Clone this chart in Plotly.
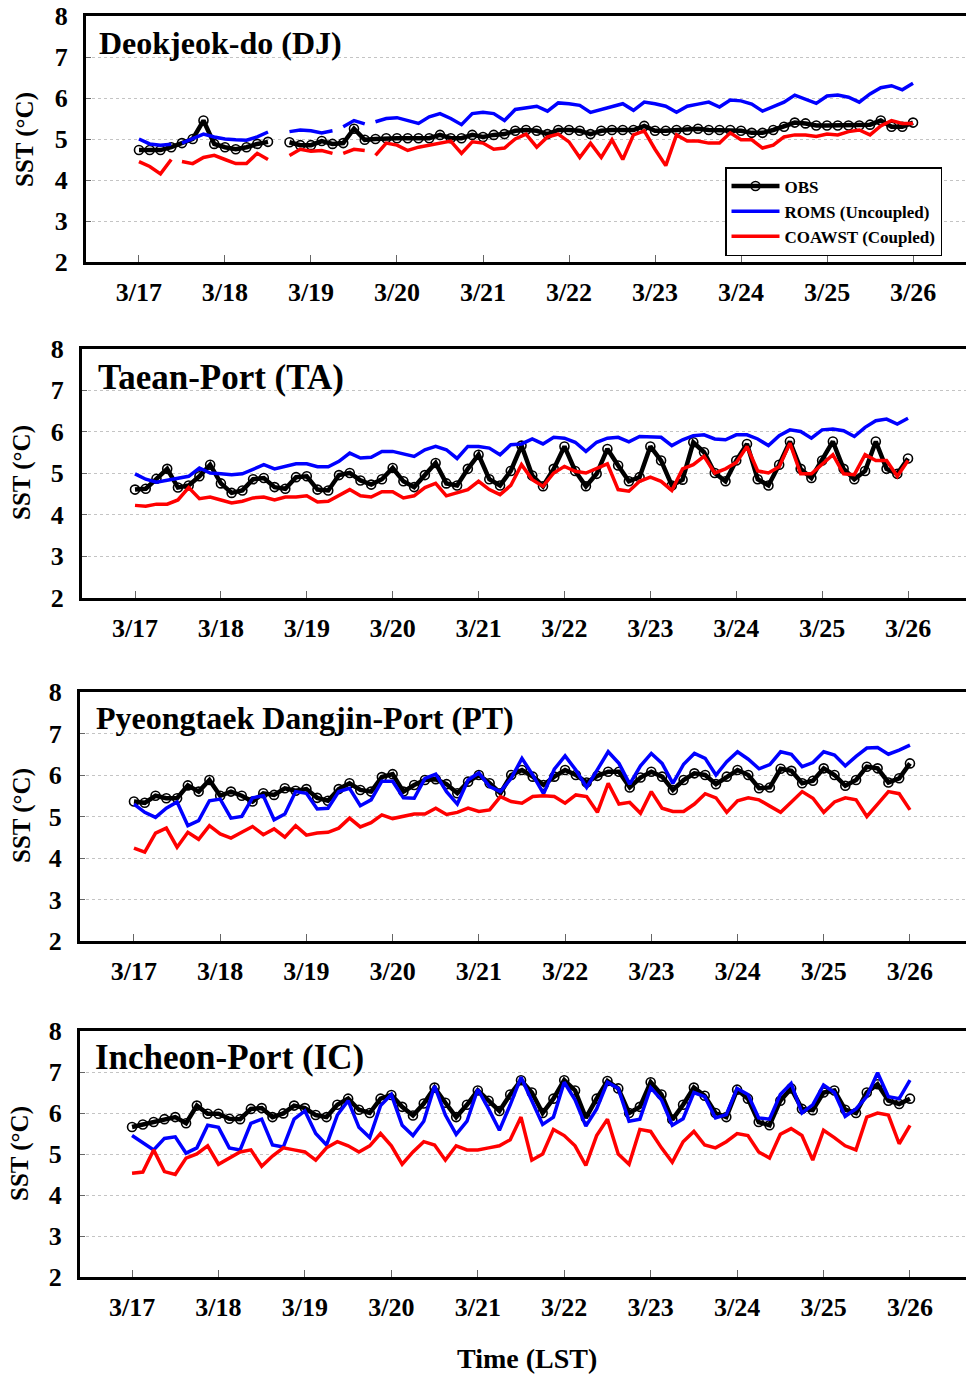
import plotly.graph_objects as go

# ---------------- DATA (3-hourly, from 3/17 00:00 LST) ----------------
dates = ["3/17", "3/18", "3/19", "3/20", "3/21", "3/22", "3/23", "3/24", "3/25", "3/26"]
y_ticks = [2, 3, 4, 5, 6, 7, 8]
step_hours = 3

dj_obs = [4.73, 4.73, 4.73, 4.8, 4.9, 5.0, 5.45, 4.88, 4.8, 4.75, 4.8, 4.88,
          4.93, None, 4.92, 4.85, 4.85, 4.95, 4.88, 4.9, 5.25, 4.98, 5.0, 5.02,
          5.02, 5.02, 5.02, 5.02, 5.1, 5.02, 5.02, 5.1, 5.05, 5.1, 5.12, 5.2,
          5.22, 5.2, 5.12, 5.22, 5.22, 5.2, 5.12, 5.2, 5.22, 5.22, 5.22, 5.32,
          5.2, 5.2, 5.22, 5.22, 5.25, 5.22, 5.22, 5.22, 5.2, 5.15, 5.15, 5.22,
          5.3, 5.4, 5.38, 5.33, 5.33, 5.33, 5.33, 5.33, 5.35, 5.45, 5.3, 5.3,
          5.4]
dj_roms = [5.0, 4.88, 4.85, 4.87, 4.9, 5.02, 5.12, 5.05, 5.0, 4.98, 4.97, 5.05,
           5.17, None, 5.18, 5.22, 5.2, 5.15, 5.2, 5.3, 5.45, 5.37, 5.42, 5.5,
           5.52, 5.45, 5.38, 5.54, 5.62, 5.5, 5.35, 5.62, 5.65, 5.62, 5.45, 5.72,
           5.75, 5.8, 5.68, 5.88, 5.86, 5.82, 5.65, 5.72, 5.8, 5.86, 5.7, 5.9,
           5.86, 5.8, 5.65, 5.8, 5.85, 5.9, 5.78, 5.95, 5.93, 5.85, 5.68, 5.8,
           5.9, 6.07, 5.98, 5.87, 6.05, 6.07, 6.02, 5.9, 6.1, 6.25, 6.3, 6.2,
           6.36]
dj_coawst = [4.45, 4.33, 4.15, 4.5, 4.45, 4.4, 4.55, 4.6, 4.5, 4.4, 4.4, 4.65,
             4.5, None, 4.6, 4.75, 4.7, 4.72, 4.65, 4.65, 4.75, 4.72, 4.6, 4.9,
             4.85, 4.72, 4.8, 4.85, 4.88, 4.95, 4.65, 4.93, 4.9, 4.75, 4.78, 5.0,
             5.12, 4.8, 5.05, 5.12, 4.93, 4.55, 4.9, 4.55, 4.98, 4.5, 5.1, 5.2,
             4.75, 4.35, 5.1, 4.95, 4.95, 4.9, 4.9, 5.15, 4.98, 4.98, 4.78, 4.85,
             5.05, 5.1, 5.1, 5.06, 5.12, 5.1, 5.18, 5.22, 5.1, 5.32, 5.45, 5.38,
             5.38]
dj_model_breaks = [10.5, 55.5, 64.5]   # hours where the model records break

ta_obs = [4.6, 4.62, 4.86, 5.1, 4.65, 4.7, 4.92, 5.2, 4.75, 4.52, 4.58, 4.85,
          4.88, 4.66, 4.62, 4.9, 4.92, 4.6, 4.58, 4.95, 5.0, 4.82, 4.72, 4.85,
          5.12, 4.8, 4.66, 4.95, 5.24, 4.75, 4.7, 5.1, 5.44, 4.85, 4.7, 5.05,
          5.66, 4.94, 4.68, 5.1, 5.64, 5.05, 4.68, 4.98, 5.58, 5.18, 4.8, 4.9,
          5.64, 5.3, 4.7, 4.84, 5.74, 5.5, 5.0, 4.8, 5.3, 5.7, 4.85, 4.7,
          5.2, 5.76, 5.1, 4.88, 5.3, 5.76, 5.1, 4.85, 5.05, 5.76, 5.1, 4.98,
          5.35]
ta_roms = [4.98, 4.85, 4.78, 4.82, 4.86, 4.92, 5.12, 5.0, 4.98, 4.96, 4.98, 5.1,
           5.2, 5.1, 5.15, 5.22, 5.22, 5.15, 5.15, 5.28, 5.48, 5.36, 5.38, 5.52,
           5.52, 5.45, 5.4, 5.56, 5.64, 5.56, 5.35, 5.64, 5.64, 5.6, 5.44, 5.68,
           5.7, 5.82, 5.7, 5.86, 5.84, 5.74, 5.52, 5.74, 5.84, 5.86, 5.75, 5.88,
           5.88, 5.86, 5.66, 5.8, 5.9, 5.92, 5.82, 5.8, 5.92, 5.92, 5.82, 5.66,
           5.9, 6.04, 6.0, 5.84, 6.04, 6.06, 6.02, 5.88, 6.1, 6.26, 6.3, 6.18,
           6.32]
ta_coawst = [4.22, 4.2, 4.25, 4.25, 4.35, 4.65, 4.38, 4.42, 4.35, 4.28, 4.32, 4.4,
             4.42, 4.35, 4.42, 4.42, 4.45, 4.3, 4.32, 4.45, 4.6, 4.45, 4.42, 4.55,
             4.55, 4.4, 4.45, 4.65, 4.75, 4.45, 4.52, 4.6, 4.8, 4.6, 4.48, 4.7,
             5.2, 4.84, 4.68, 5.0, 5.16, 5.04, 5.0, 5.1, 5.22, 4.6, 4.56, 4.8,
             4.9, 4.8, 4.58, 5.1, 5.2, 5.4, 5.0, 5.1, 5.25, 5.64, 5.05, 5.0,
             5.15, 5.72, 4.98, 4.98, 5.2, 5.44, 4.98, 4.96, 5.44, 5.3, 5.3, 4.92,
             5.3]

pt_obs = [5.36, 5.33, 5.5, 5.44, 5.44, 5.75, 5.6, 5.88, 5.5, 5.6, 5.5, 5.36,
          5.56, 5.52, 5.68, 5.62, 5.66, 5.45, 5.38, 5.66, 5.8, 5.64, 5.6, 5.95,
          6.02, 5.6, 5.76, 5.88, 5.9, 5.78, 5.56, 5.84, 6.0, 5.8, 5.56, 6.0,
          6.12, 5.96, 5.76, 5.96, 6.12, 6.0, 5.82, 5.98, 6.08, 6.08, 5.7, 5.94,
          6.08, 5.96, 5.64, 5.88, 6.04, 6.0, 5.78, 5.96, 6.12, 6.0, 5.68, 5.7,
          6.15, 6.1, 5.8, 5.86, 6.16, 6.0, 5.74, 5.88, 6.2, 6.16, 5.82, 5.92,
          6.28]
pt_roms = [5.3, 5.1, 4.98, 5.2, 5.35, 4.78, 4.9, 5.38, 5.42, 4.96, 5.0, 5.45,
           5.5, 4.92, 5.06, 5.6, 5.56, 5.18, 5.2, 5.6, 5.68, 5.26, 5.4, 5.85,
           5.85, 5.45, 5.44, 5.92, 6.02, 5.6, 5.3, 5.88, 6.05, 5.72, 5.6, 5.92,
           6.4, 6.0, 5.55, 6.14, 6.46, 6.12, 5.7, 6.12, 6.56, 6.28, 5.78, 6.22,
           6.52, 6.28, 5.8, 6.26, 6.52, 6.4, 6.0, 6.32, 6.56, 6.38, 6.15, 6.25,
           6.56, 6.5, 6.2, 6.3, 6.56, 6.48, 6.22, 6.45, 6.65, 6.66, 6.5, 6.6,
           6.72]
pt_coawst = [4.24, 4.14, 4.6, 4.72, 4.26, 4.62, 4.45, 4.78, 4.58, 4.48, 4.62, 4.76,
             4.56, 4.7, 4.5, 4.78, 4.55, 4.6, 4.62, 4.72, 4.96, 4.75, 4.85, 5.04,
             4.95, 5.0, 5.06, 5.06, 5.2, 5.05, 5.1, 5.2, 5.12, 5.16, 5.48, 5.36,
             5.32, 5.48, 5.5, 5.48, 5.32, 5.52, 5.48, 5.1, 5.8, 5.3, 5.34, 5.08,
             5.6, 5.2, 5.12, 5.12, 5.3, 5.55, 5.45, 5.1, 5.38, 5.45, 5.4, 5.25,
             5.1, 5.35, 5.6, 5.44, 5.1, 5.35, 5.45, 5.4, 5.0, 5.3, 5.6, 5.55,
             5.16]

ic_obs = [5.66, 5.72, 5.78, 5.85, 5.9, 5.75, 6.18, 5.98, 5.98, 5.86, 5.85, 6.1,
          6.12, 5.9, 5.99, 6.18, 6.12, 5.95, 5.9, 6.2, 6.35, 6.08, 6.0, 6.35,
          6.44, 6.15, 5.94, 6.23, 6.62, 6.25, 5.9, 6.2, 6.55, 6.3, 6.05, 6.45,
          6.8, 6.5, 6.0, 6.35, 6.8, 6.55, 5.88, 6.35, 6.78, 6.6, 6.0, 6.15,
          6.75, 6.45, 5.84, 6.2, 6.62, 6.42, 6.0, 5.9, 6.57, 6.35, 5.78, 5.7,
          6.3, 6.6, 6.1, 6.07, 6.5, 6.55, 6.08, 6.0, 6.5, 6.7, 6.3, 6.22,
          6.35]
ic_roms = [5.45, 5.28, 5.1, 5.38, 5.42, 5.02, 5.15, 5.7, 5.65, 5.15, 5.1, 5.75,
           5.85, 5.22, 5.17, 5.85, 6.05, 5.5, 5.22, 5.95, 6.3, 5.65, 5.4, 6.18,
           6.45, 5.7, 5.45, 5.8, 6.66, 5.95, 5.48, 5.8, 6.58, 6.1, 5.58, 6.2,
           6.87, 6.3, 5.72, 5.9, 6.75, 6.32, 5.68, 6.1, 6.75, 6.6, 5.8, 5.85,
           6.62, 6.32, 5.7, 5.86, 6.5, 6.4, 5.88, 5.96, 6.6, 6.45, 5.88, 5.85,
           6.45, 6.72, 6.0, 6.2, 6.68, 6.5, 5.92, 6.1, 6.4, 6.98, 6.4, 6.35,
           6.8]
ic_coawst = [4.53, 4.56, 5.1, 4.57, 4.5, 4.9, 5.0, 5.2, 4.75, 4.9, 5.05, 5.1,
             4.7, 4.95, 5.15, 5.1, 5.05, 4.85, 5.15, 5.3, 5.2, 5.05, 5.2, 5.5,
             5.2, 4.75, 5.05, 5.3, 5.22, 4.85, 5.2, 5.1, 5.1, 5.15, 5.2, 5.35,
             5.9, 4.85, 5.0, 5.6, 5.45, 5.2, 4.72, 5.45, 5.85, 5.0, 4.75, 5.6,
             5.55, 5.15, 4.8, 5.3, 5.55, 5.22, 5.15, 5.3, 5.5, 5.45, 5.05, 4.9,
             5.48, 5.62, 5.45, 4.85, 5.58, 5.4, 5.2, 5.1, 5.9, 6.0, 5.95, 5.25,
             5.7]

station_names = ["Deokjeok-do (DJ)", "Taean-Port (TA)",
                 "Pyeongtaek Dangjin-Port (PT)", "Incheon-Port (IC)"]
obs_sets = [dj_obs, ta_obs, pt_obs, ic_obs]
roms_sets = [dj_roms, ta_roms, pt_roms, ic_roms]
coawst_sets = [dj_coawst, ta_coawst, pt_coawst, ic_coawst]
model_breaks = [dj_model_breaks, [], [], []]
series_names = ["OBS", "ROMS (Uncoupled)", "COAWST (Coupled)"]

# ---------------- LAYOUT GEOMETRY (pixels) ----------------
W, H = 966, 1376
geom = [
    dict(left=86, top=16, bottom=262, xr=[-0.616, 9.616], tx=97, ty=43, ts=32, lx=25, ly=140),
    dict(left=82, top=348.5, bottom=597.5, xr=[-0.617, 9.675], tx=96, ty=377, ts=35, lx=22, ly=473),
    dict(left=80, top=692, bottom=941, xr=[-0.626, 9.65], tx=94, ty=718, ts=32, lx=22, ly=816),
    dict(left=80, top=1031, bottom=1277, xr=[-0.602, 9.648], tx=93, ty=1057, ts=35, lx=20, ly=1154),
]

SERIF = "Liberation Serif, Times New Roman, serif"


def fx(px):
    return px / W


def fy(px):
    return 1 - px / H


def series(vals, breaks=()):
    pts = [(step_hours * i / 24.0, v) for i, v in enumerate(vals)]
    for b in breaks:
        pts.append((b / 24.0, None))
    pts.sort(key=lambda p: p[0])
    return [p[0] for p in pts], [p[1] for p in pts]


fig = go.Figure()
annotations = []

for k in range(4):
    g = geom[k]
    xa = "x" if k == 0 else f"x{k+1}"
    ya = "y" if k == 0 else f"y{k+1}"
    show = (k == 0)

    ox, oy = series(obs_sets[k])
    fig.add_trace(go.Scatter(
        x=ox, y=oy, mode="lines+markers", name=series_names[0],
        line=dict(color="black", width=4.5),
        marker=dict(symbol="circle-open", size=9, color="black", line=dict(width=1.6)),
        xaxis=xa, yaxis=ya, showlegend=show, legendgroup="obs", connectgaps=False))
    rx, ry = series(roms_sets[k], model_breaks[k])
    fig.add_trace(go.Scatter(
        x=rx, y=ry, mode="lines", name=series_names[1],
        line=dict(color="#0000ff", width=3.5),
        xaxis=xa, yaxis=ya, showlegend=show, legendgroup="roms", connectgaps=False))
    cx, cy = series(coawst_sets[k], model_breaks[k])
    fig.add_trace(go.Scatter(
        x=cx, y=cy, mode="lines", name=series_names[2],
        line=dict(color="#ff0000", width=3.5),
        xaxis=xa, yaxis=ya, showlegend=show, legendgroup="coawst", connectgaps=False))

    xaxis = dict(
        domain=[fx(g["left"]), 1.0], range=g["xr"], anchor=ya, automargin=False,
        tickmode="array", tickvals=list(range(len(dates))), ticktext=dates,
        ticks="inside", ticklen=7, tickwidth=1, tickcolor="#666",
        showline=True, linewidth=3, linecolor="black", mirror=True,
        showgrid=False, zeroline=False, ticklabelstandoff=5,
        tickfont=dict(family=SERIF, size=26, color="black", weight="bold"))
    yaxis = dict(
        domain=[fy(g["bottom"]), fy(g["top"])], range=[2, 8], anchor=xa, automargin=False,
        tickmode="array", tickvals=y_ticks,
        ticks="inside", ticklen=5, tickwidth=1, tickcolor="#666",
        showline=True, linewidth=3, linecolor="black", mirror=False,
        showgrid=True, gridcolor="#c4c4c4", gridwidth=1, griddash="dot",
        zeroline=False, ticklabelstandoff=10,
        tickfont=dict(family=SERIF, size=26, color="black", weight="bold"))
    fig.update_layout(**{("xaxis" if k == 0 else f"xaxis{k+1}"): xaxis,
                         ("yaxis" if k == 0 else f"yaxis{k+1}"): yaxis})

    annotations.append(dict(
        text=station_names[k], xref="paper", yref="paper",
        x=fx(g["tx"]), y=fy(g["ty"]), xanchor="left", yanchor="middle",
        showarrow=False, font=dict(family=SERIF, size=g["ts"], color="black", weight="bold")))
    annotations.append(dict(
        text="SST (°C)", xref="paper", yref="paper", textangle=-90,
        x=fx(g["lx"]), y=fy(g["ly"]), xanchor="center", yanchor="middle",
        showarrow=False, font=dict(family=SERIF, size=25, color="black", weight="bold")))

annotations.append(dict(
    text="Time (LST)", xref="paper", yref="paper",
    x=fx(527), y=fy(1358), xanchor="center", yanchor="middle",
    showarrow=False, font=dict(family=SERIF, size=28, color="black", weight="bold")))

fig.update_layout(
    width=W, height=H,
    margin=dict(l=0, r=0, t=0, b=0, autoexpand=False),
    paper_bgcolor="white", plot_bgcolor="white",
    annotations=annotations,
    legend=dict(
        x=fx(725), y=fy(167), xanchor="left", yanchor="top",
        bgcolor="white", bordercolor="black", borderwidth=1.5,
        font=dict(family=SERIF, size=17, color="black", weight="bold"),
        tracegroupgap=0, itemwidth=48, itemsizing="trace"),
)

fig.write_html("out.html")
